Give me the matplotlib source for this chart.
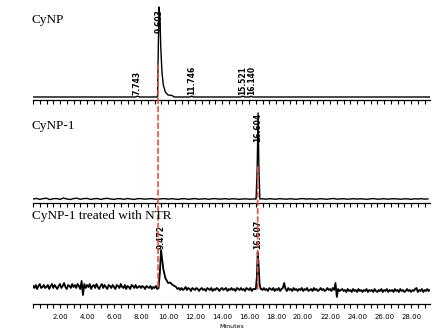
import numpy as np
import matplotlib
matplotlib.use("Agg")
import matplotlib.pyplot as plt
from matplotlib.ticker import MultipleLocator, FuncFormatter
from matplotlib.patches import ConnectionPatch

# retention time grids of the baseline readings (minutes)
t_grid2 = np.arange(0, 29.5, 0.25)
t_grid3 = np.arange(0, 29.45, 0.1)

# panel 1 : CyNP (nearly flat baseline, one main peak)
base1_t = [0, 7.60, 7.74, 7.90, 11.60, 11.75, 11.90, 15.40, 15.52, 15.70, 16.05, 16.14, 16.30, 29.4]
base1_y = [0, 0, 0.8, 0, 0, 0.8, 0, 0, 0.8, 0, 0, 0.8, 0, 0]
peak1_t = [9.22, 9.28, 9.33, 9.40, 9.46, 9.55, 9.65, 9.80, 10.00, 10.30, 10.45]
peak1_y = [0, 50, 90, 80, 50, 25, 12, 5, 2, 1.5, 0]
labels1 = ["7.743", "9.603", "11.746", "15.521", "16.140"]
label1_t = [7.72, 9.33, 11.76, 15.55, 16.20]

# panel 2 : CyNP-1
noise2 = [0, 0.6, -0.4, 0.4, 0.8, -0.6, 0.3, 0.5, -0.4, 1.0, 0, -0.5,
          0.4, 0.8, -0.3, 0.4, 0.6, -0.4, 0.2, 0.5, -0.4, 0.3, 0.7, 0,
          -0.4, 0.4, 0.2, -0.3, 0.5, 0, -0.4, 0.3, 0.4, -0.2, 0.1, 0.4,
          0, -0.3, 0.2, 0.4, -0.2, 0.3, 0, -0.4, 0.2, 0.3, -0.3, 0.1,
          0.4, -0.2, 0, 0.3, -0.3, 0.2, 0.4, -0.1, 0, 0.3, -0.2, 0.2,
          0.1, -0.3, 0, 0.2, -0.2, 0, 0, 0, 0.2, -0.2, 0.3, 0,
          -0.2, 0.3, 0.1, -0.2, 0.2, 0, -0.3, 0.2, 0.4, -0.1, 0.2, 0,
          -0.2, 0.3, 0.1, -0.3, 0.2, 0.5, -0.2, 0.1, 0.3, -0.2, 0, 0.3,
          -0.1, 0.2, 0, -0.3, 0.2, 0.4, -0.2, 0, 0.3, -0.2, 0.1, 0.3,
          0, -0.2, 0.2, 0.1, -0.3, 0.2, 0, 0.3, -0.1, 0.1]
peak2_t = [16.52, 16.60, 16.67, 16.73, 16.80]
peak2_y = [0, 30, 86, 30, 0]
labels2 = ["16.604"]
label2_t = [16.67]

# panel 3 : CyNP-1 treated with NTR (one row per minute)
noise3 = [1, -1, 2, -2, 1, 3, -1, 0, 2, -1,
          0, 2, -2, 1, 3, -1, 2, 0, -2, 1,
          3, -1, 1, 4, 0, -2, 2, 1, -1, 3,
          0, 2, -1, 3, 1, -2, 6, -8, 3, -1,
          2, 0, 3, -2, 1, 2, -1, 3, 0, -2,
          1, 3, -1, 2, 0, -2, 2, 1, -1, 2,
          0, -2, 2, 1, -1, 3, 0, -1, 2, -2,
          1, 0, -2, 2, 1, -1, 2, -1, 0, 1,
          -1, 1, 0, -2, 1, 0, -1, 1, -2, 0,
          -1, 1, -2, 0, -1, 0, 0, 0, 0, 0,
          0, 0, 0, 0, 0, 0, 0, -2, -1, -3,
          -1, -3, -2, 0, -3, -1, -2, -4, -1, -2,
          -3, -1, -2, -4, -2, -1, -3, -2, -4, -1,
          -2, -3, -1, -4, -2, -3, -1, -2, -4, -2,
          -1, -3, -2, -1, -4, -2, -3, -1, -3, -2,
          -4, -1, -2, -3, -1, -3, -2, -4, -1, -2,
          -3, -1, -4, -2, -2, -3, 0, 0, 0, -2,
          -3, -1, -3, -2, -4, -1, -2, -3, -1, -4,
          -2, -3, -1, -4, -2, -1, 4, -2, -4, -1,
          -3, -2, -4, -1, -3, -2, -4, -2, -3, -1,
          -4, -2, -3, -1, -4, -3, -2, -4, -1, -3,
          -2, -4, -3, -1, -3, -2, -4, -3, -1, -3,
          -2, -4, -1, -3, 4, -10, -2, -4, -3, -2,
          -4, -3, -5, -2, -4, -3, -5, -2, -4, -3,
          -5, -2, -4, -3, -5, -3, -4, -2, -5, -3,
          -4, -3, -5, -2, -4, -5, -3, -4, -2, -5,
          -3, -4, -2, -5, -3, -4, -3, -5, -2, -4,
          -3, -5, -2, -4, -3, -5, -4, -2, -4, -3,
          -5, -3, -4, -2, -1, -5, -3, -4, -2, -5,
          -3, -4, -2, -4, -3]
peak3a_t = [9.30, 9.40, 9.48, 9.55, 9.65, 9.80, 10.00, 10.15, 10.35, 10.60]
peak3a_y = [-1, 15, 37, 29, 18, 9, 4, 4.5, 2, 0]
peak3b_t = [16.50, 16.58, 16.64, 16.70, 16.78, 16.86]
peak3b_y = [-2, 10, 35, 24, 3, -2]
labels3 = ["9.472", "16.607"]
label3_t = [9.48, 16.64]

titles = ["CyNP", "CyNP-1", "CyNP-1 treated with NTR"]
red_t = [9.26, 16.64]


def trace(tb, yb, peaks):
    t = np.asarray(tb, float)
    y = np.asarray(yb, float)
    for pt, py in peaks:
        keep = (t < pt[0]) | (t > pt[-1])
        t = np.concatenate([t[keep], pt])
        y = np.concatenate([y[keep], py])
    order = np.argsort(t)
    return t[order], y[order]


W, H = 443, 335
fig = plt.figure(figsize=(W / 100, H / 100), dpi=100)


def add_panel(top_px, bot_px, ylim):
    ax = fig.add_axes([33 / W, 1 - bot_px / H, 397 / W, (bot_px - top_px) / H])
    ax.set_xlim(0, 29.4)
    ax.set_ylim(*ylim)
    for s in ["top", "right", "left"]:
        ax.spines[s].set_visible(False)
    ax.spines["bottom"].set_linewidth(0.9)
    ax.set_yticks([])
    ax.xaxis.set_major_locator(MultipleLocator(2))
    ax.xaxis.set_minor_locator(MultipleLocator(0.5))
    ax.xaxis.set_major_formatter(FuncFormatter(lambda v, p: "" if v < 1 else "%.2f" % v))
    ax.tick_params(axis="x", which="both", direction="out", length=3, width=0.8,
                   labelsize=5, pad=4)
    ax.patch.set_alpha(0)
    return ax


ax1 = add_panel(0, 100, (-3, 97))
ax2 = add_panel(105, 203, (-4, 94))
ax3 = add_panel(207, 304, (-17, 80))
ax1.tick_params(labelbottom=False)
ax2.tick_params(labelbottom=False)
ax3.set_xlabel("Minutes", fontsize=4.5, labelpad=3)

x1, y1 = trace(base1_t, base1_y, [(peak1_t, peak1_y)])
x2, y2 = trace(t_grid2, noise2, [(peak2_t, peak2_y)])
x3, y3 = trace(t_grid3, noise3, [(peak3a_t, peak3a_y), (peak3b_t, peak3b_y)])

ax1.plot(x1, y1, color="black", lw=1.0, zorder=3)
ax2.plot(x2, y2, color="black", lw=1.0, zorder=3)
ax3.plot(x3, y3, color="black", lw=1.3, zorder=3)

lab_kw = dict(rotation=90, ha="center", fontsize=5.5, fontweight="bold", zorder=4)
for t, s in zip(label1_t, labels1):
    if s == "9.603":
        ax1.text(t, 88, s, va="top", **lab_kw)
    else:
        ax1.text(t, 2, s, va="bottom", **lab_kw)
for t, s in zip(label2_t, labels2):
    ax2.text(t, 86, s, va="top", **lab_kw)
for t, s in zip(label3_t, labels3):
    ax3.text(t, 38, s, va="bottom", **lab_kw)

for ax, title, ypx in zip([ax1, ax2, ax3], titles, [20, 126, 216]):
    fig.text(32 / W, 1 - ypx / H, title, fontsize=9.5, family="Liberation Serif",
             va="center", ha="left")

red = "#e5533c"
for t, axA, yA in [(red_t[0], ax1, 32), (red_t[1], ax2, 32)]:
    con = ConnectionPatch(xyA=(t, yA), coordsA=axA.transData,
                          xyB=(t, -3), coordsB=ax3.transData,
                          color=red, lw=1.2, linestyle=(0, (3, 2)), zorder=2)
    fig.add_artist(con)

fig.savefig("out.png", dpi=100)
